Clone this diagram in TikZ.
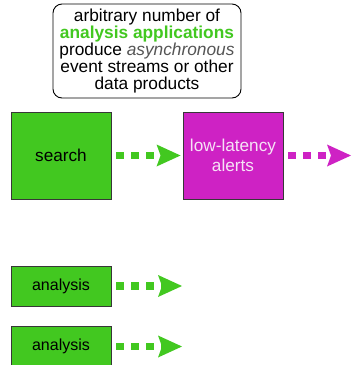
\documentclass[tikz,border=0pt]{standalone}
\usepackage{fontspec}
\setmainfont{Liberation Sans}
\usetikzlibrary{arrows.meta}
\definecolor{procgreen}{RGB}{66,200,32}
\definecolor{alertmag}{RGB}{206,34,196}
\definecolor{alerttext}{RGB}{246,226,246}
\definecolor{edgegray}{RGB}{55,55,55}
\definecolor{notegray}{RGB}{85,85,85}
\tikzset{
  procbox/.style={draw=edgegray, line width=0.9pt, minimum width=100pt, inner sep=0pt, align=center},
  bigbox/.style={procbox, minimum height=87pt, font=\fontsize{17.2}{20}\selectfont},
  smallbox/.style={procbox, fill=procgreen, minimum height=40pt, font=\fontsize{16}{18}\selectfont},
  flow/.style={line width=7.5pt, dash pattern=on 7.5pt off 7.5pt,
    -{Stealth[length=24pt, width=22pt, inset=4pt, line width=0pt]}},
  note/.style={draw=black, line width=0.9pt, rounded corners=9pt, fill=white,
    minimum width=188pt, minimum height=94pt, inner sep=0pt, align=center,
    font=\fontsize{17.3}{17}\selectfont}
}
\begin{document}
\begin{tikzpicture}[x=1pt, y=-1pt]
  \useasboundingbox (0,0) rectangle (352,365);

  % explanatory note
  \node[note] (note) at (147,51)
    {arbitrary number of\\
     \textcolor{procgreen}{\textbf{analysis applications}}\\
     produce \textcolor{notegray}{\textit{asynchronous}}\\
     event streams or other\\
     data products};

  % processing stages
  \node[bigbox, fill=procgreen] (search) at (61,155.5) {search};
  \node[bigbox, fill=alertmag, text=alerttext] (alerts) at (233,155.5) {low-latency\\alerts};
  \node[smallbox] (an1) at (61,286) {analysis};
  \node[smallbox] (an2) at (61,346.5) {analysis};

  % outgoing ends
  \coordinate (alertsout) at (351,155.5);
  \coordinate (an1out) at (182,286);
  \coordinate (an2out) at (182,346.5);

  % data flows
  \draw[flow, procgreen, shorten <=5pt, shorten >=2pt] (search.east) -- (alerts.west);
  \draw[flow, alertmag, shorten <=5pt] (alerts.east) -- (alertsout);
  \draw[flow, procgreen, shorten <=5pt] (an1.east) -- (an1out);
  \draw[flow, procgreen, shorten <=5pt] (an2.east) -- (an2out);
\end{tikzpicture}
\end{document}
